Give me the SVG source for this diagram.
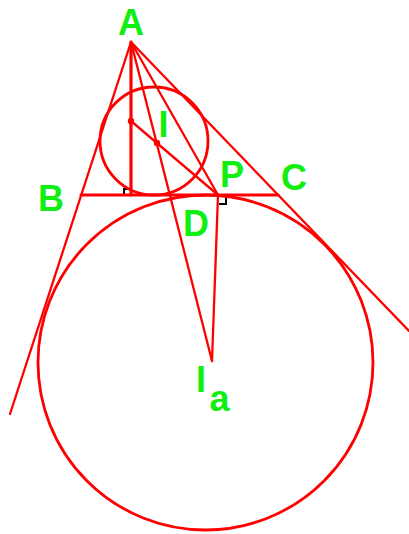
<svg xmlns="http://www.w3.org/2000/svg" width="409" height="534" viewBox="0 0 409 534">
<style>
.ln{stroke:#ff0000;stroke-width:2.3;fill:none;stroke-linecap:round}
.thick{stroke-width:3.2}
.circ{stroke:#ff0000;stroke-width:2.8;fill:none}
.ra{stroke:#000;stroke-width:2;fill:none}
.lbl{font-family:"Liberation Sans",Arial,sans-serif;font-weight:bold;font-size:36px;fill:#11ee11;text-anchor:middle}
.dot{fill:#ff0000}
</style>
<rect width="409" height="534" fill="#fff"/>
<g id="connectors">
<path class="ra" d="M131,189 H124 V195"/>
<path class="ra" d="M219,204 H226 V197"/>
<line class="ln" x1="131" y1="42" x2="10" y2="414"/>
<line class="ln" x1="131" y1="42" x2="409" y2="331"/>
<line class="ln thick" x1="81" y1="195" x2="278" y2="195"/>
<line class="ln thick" x1="131" y1="42" x2="131" y2="195"/>
<line class="ln" x1="131" y1="42" x2="212" y2="361"/>
<line class="ln" x1="131" y1="42" x2="218" y2="195"/>
<line class="ln" x1="131" y1="121" x2="218" y2="195"/>
<line class="ln" x1="218" y1="195" x2="212" y2="361"/>
</g>
<g id="incircle"><circle class="circ" cx="154" cy="141" r="54"/></g>
<g id="excircle"><circle class="circ" cx="205.5" cy="362.5" r="167.5"/></g>
<g id="points">
<circle class="dot" cx="131" cy="121" r="3.2"/>
<circle class="dot" cx="157" cy="143" r="3.2"/>
</g>
<g id="A"><text class="lbl" x="131" y="35">A</text></g>
<g id="B"><text class="lbl" x="51" y="211">B</text></g>
<g id="C"><text class="lbl" x="294" y="190">C</text></g>
<g id="I"><text class="lbl" x="163.5" y="137">I</text></g>
<g id="P"><text class="lbl" x="232" y="187">P</text></g>
<g id="D"><text class="lbl" x="196" y="236">D</text></g>
<g id="Ia"><text class="lbl" x="201" y="392">I</text><text class="lbl" x="219.5" y="411">a</text></g>
</svg>
